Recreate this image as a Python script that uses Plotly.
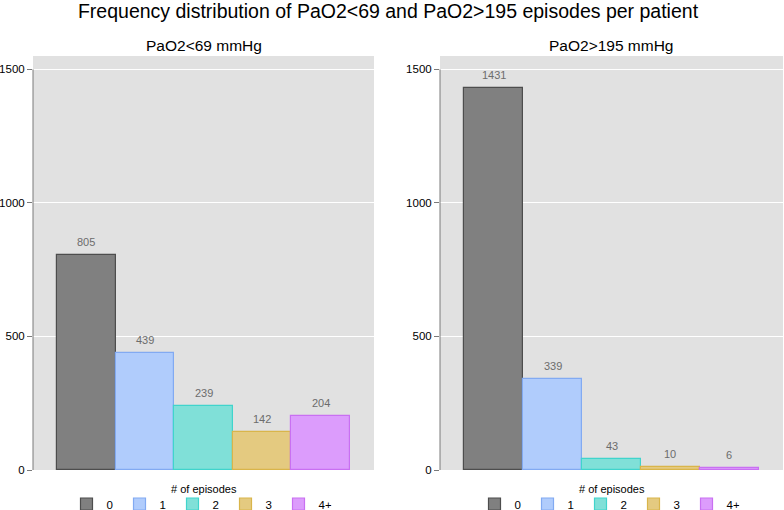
import plotly.graph_objects as go

categories = ["0", "1", "2", "3", "4+"]
low_counts = [805, 439, 239, 142, 204]
high_counts = [1431, 339, 43, 10, 6]
panel_titles = ["PaO2<69 mmHg", "PaO2>195 mmHg"]
legend_title = "# of episodes"
y_ticks = [0, 500, 1000, 1500]

fills = ["#808080", "#b0ccfc", "#80e0d8", "#e4ca80", "#dc9cfc"]
edges = ["#4d4d4d", "#82aaf2", "#40d4cc", "#d9b54a", "#c970f2"]

W, H = 784, 510
def px_x(v): return v / W
def px_y(v): return 1 - v / H

FONT = "Liberation Sans, Arial"

fig = go.Figure()
panels = [(low_counts, "x", "y", "legend"), (high_counts, "x2", "y2", "legend2")]
for counts, xa, ya, lg in panels:
    for i, (cat, val) in enumerate(zip(categories, counts)):
        fig.add_trace(go.Bar(
            x=[i], y=[val], width=1, name=cat,
            marker=dict(color=fills[i], line=dict(color=edges[i], width=1.2)),
            xaxis=xa, yaxis=ya, legend=lg, hoverinfo="skip"))
        fig.add_annotation(x=i, y=val, xref=xa, yref=ya, text=str(val),
                           showarrow=False, yshift=13,
                           font=dict(size=11, color="#6c6c6c", family=FONT))

ydom = [px_y(470), px_y(56)]
axis_common = dict(showgrid=False, zeroline=False, showticklabels=False, ticks="",
                   range=[-0.91, 4.91], fixedrange=True, automargin=False)
yaxis_common = dict(range=[0, 1550], tickvals=y_ticks, ticks="outside", ticklen=5,
                    tickcolor="#7a7a7a", showgrid=True, gridcolor="#ffffff", gridwidth=1,
                    zeroline=False, showline=False, automargin=False, fixedrange=True,
                    tickfont=dict(size=11.5, color="#000000", family=FONT),
                    domain=ydom)

fig.update_layout(
    width=W, height=H,
    margin=dict(l=0, r=0, t=0, b=0, autoexpand=False),
    paper_bgcolor="#ffffff",
    plot_bgcolor="#e1e1e1",
    barmode="overlay",
    bargap=0,
    font=dict(family=FONT, color="#000000"),
    title=dict(text="Frequency distribution of PaO2<69 and PaO2>195 episodes per patient",
               x=px_x(388), xanchor="center", y=px_y(11), yanchor="middle",
               font=dict(size=19.5, color="#000000", family=FONT)),
    xaxis=dict(domain=[px_x(33), px_x(374)], anchor="y", **axis_common),
    xaxis2=dict(domain=[px_x(440), px_x(783)], anchor="y2", **axis_common),
    yaxis=dict(anchor="x", **yaxis_common),
    yaxis2=dict(anchor="x2", **yaxis_common),
)

# y axis lines spanning 0..max tick
for xa, ya in [("x", "y"), ("x2", "y2")]:
    fig.add_shape(type="line", xref=f"{xa} domain", yref=ya, x0=0, x1=0,
                  y0=y_ticks[0], y1=y_ticks[-1], line=dict(color="#7a7a7a", width=1))

# panel titles and legend titles
for cx, t in [((33 + 374) / 2, panel_titles[0]), ((440 + 783) / 2, panel_titles[1])]:
    fig.add_annotation(x=px_x(cx), y=px_y(45), xref="paper", yref="paper", text=t,
                       showarrow=False, xanchor="center", yanchor="middle",
                       font=dict(size=15.5, color="#000000", family=FONT))
    fig.add_annotation(x=px_x(cx), y=px_y(489), xref="paper", yref="paper", text=legend_title,
                       showarrow=False, xanchor="center", yanchor="middle",
                       font=dict(size=11, color="#000000", family=FONT))

leg_common = dict(orientation="h", xanchor="center", yanchor="middle", y=px_y(504),
                  bgcolor="rgba(0,0,0,0)", entrywidth=8, entrywidthmode="pixels",
                  font=dict(size=11.5, color="#000000", family=FONT),
                  tracegroupgap=0)
fig.update_layout(
    legend=dict(x=px_x(199), **leg_common),
    legend2=dict(x=px_x(607), **leg_common),
)

fig.write_html("out.html", config={"displayModeBar": False},
               post_script="document.body.style.margin='0';")
